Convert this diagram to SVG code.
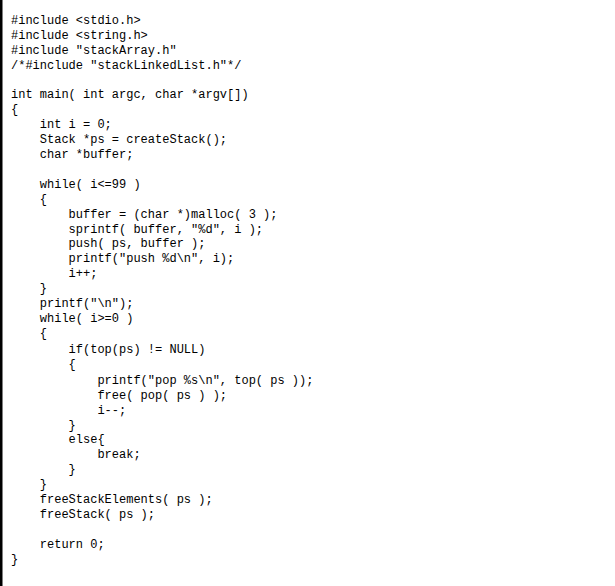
<svg xmlns="http://www.w3.org/2000/svg" width="615" height="586" viewBox="0 0 615 586">
<style>text{font-family:"Liberation Mono","DejaVu Sans Mono",monospace;font-size:12px;fill:#000;white-space:pre}</style>
<rect width="615" height="586" fill="#fff"/>
<rect x="0" y="0" width="2.5" height="586" fill="#000"/>
<g id="code">
<text x="11" y="24">#include &lt;stdio.h&gt;</text>
<text x="11" y="39">#include &lt;string.h&gt;</text>
<text x="11" y="54">#include "stackArray.h"</text>
<text x="11" y="69">/*#include "stackLinkedList.h"*/</text>
<text x="11" y="98">int main( int argc, char *argv[])</text>
<text x="11" y="113">{</text>
<text x="11" y="128">    int i = 0;</text>
<text x="11" y="143">    Stack *ps = createStack();</text>
<text x="11" y="158">    char *buffer;</text>
<text x="11" y="188">    while( i&lt;=99 )</text>
<text x="11" y="203">    {</text>
<text x="11" y="218">        buffer = (char *)malloc( 3 );</text>
<text x="11" y="233">        sprintf( buffer, "%d", i );</text>
<text x="11" y="247">        push( ps, buffer );</text>
<text x="11" y="262">        printf("push %d\n", i);</text>
<text x="11" y="277">        i++;</text>
<text x="11" y="292">    }</text>
<text x="11" y="307">    printf("\n");</text>
<text x="11" y="322">    while( i&gt;=0 )</text>
<text x="11" y="337">    {</text>
<text x="11" y="353">        if(top(ps) != NULL)</text>
<text x="11" y="368">        {</text>
<text x="11" y="384">            printf("pop %s\n", top( ps ));</text>
<text x="11" y="399">            free( pop( ps ) );</text>
<text x="11" y="414">            i--;</text>
<text x="11" y="429">        }</text>
<text x="11" y="443">        else{</text>
<text x="11" y="458">            break;</text>
<text x="11" y="473">        }</text>
<text x="11" y="488">    }</text>
<text x="11" y="503">    freeStackElements( ps );</text>
<text x="11" y="518">    freeStack( ps );</text>
<text x="11" y="548">    return 0;</text>
<text x="11" y="563">}</text>
</g>
</svg>
